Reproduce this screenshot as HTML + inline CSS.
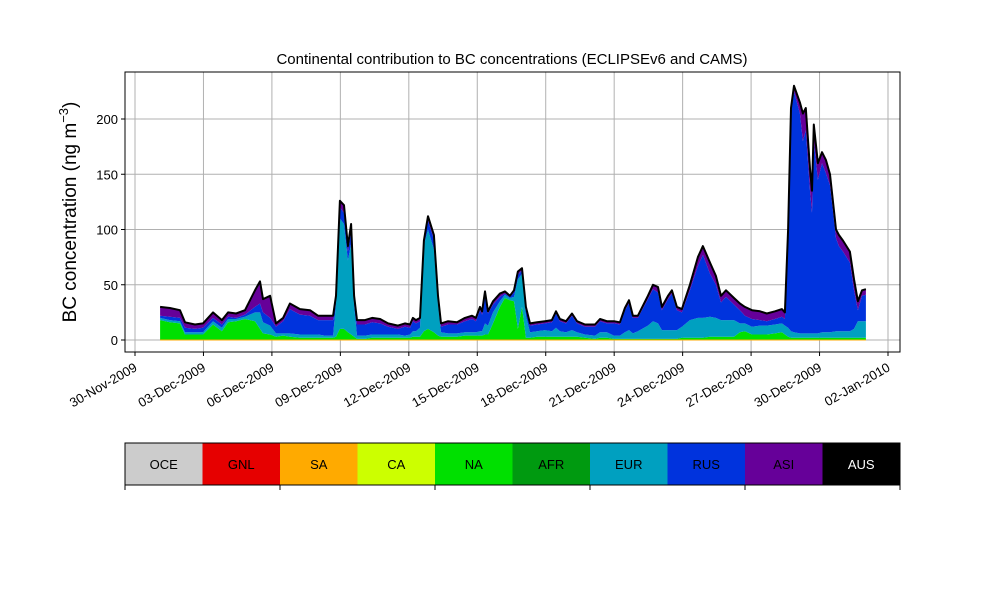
<!DOCTYPE html>
<html><head><meta charset="utf-8"><style>
body{margin:0;background:#fff;font-family:"Liberation Sans",sans-serif}
svg text{font-family:"Liberation Sans",sans-serif}
</style></head><body>
<svg id="chart" width="1000" height="600" viewBox="0 0 1000 600" xmlns="http://www.w3.org/2000/svg">
<rect width="1000" height="600" fill="#fff"/>
<g id="grid"></g><g id="areas"></g><g id="axes"></g><g id="cbar"></g>
</svg>
<script>
// days since 30-Nov-2009 00:00
const days=[1.10,1.53,1.97,2.19,2.63,2.98,3.42,3.81,4.08,4.43,4.82,5.26,5.48,5.61,5.92,6.18,6.49,6.79,7.23,7.67,8.02,8.33,8.68,8.81,8.98,9.16,9.33,9.47,9.60,9.73,10.08,10.39,10.74,11.09,11.52,11.83,12.05,12.18,12.31,12.49,12.66,12.84,13.10,13.28,13.41,13.72,14.11,14.46,14.77,14.94,15.12,15.21,15.34,15.47,15.69,15.99,16.21,16.43,16.61,16.78,16.96,17.13,17.31,17.62,17.97,18.27,18.45,18.62,18.89,19.15,19.37,19.72,20.16,20.38,20.68,20.99,21.25,21.47,21.65,21.82,22.04,22.48,22.70,22.92,23.09,23.36,23.53,23.75,23.97,24.32,24.67,24.89,25.20,25.46,25.68,25.90,26.25,26.51,26.73,27.04,27.39,27.69,28.05,28.35,28.48,28.62,28.75,28.88,29.14,29.27,29.40,29.58,29.67,29.75,29.93,30.11,30.28,30.46,30.72,30.85,31.03,31.33,31.51,31.68,31.86,32.03];
const naVals=[18,16,15,5,5,5,14,8,16,17,19,17,10,6,5,3,4,3,2,2,2,2,2,3,10,10,7,5,3,1,1,2,2,2,2,2,2,3,3,3,8,10,7,4,3,3,3,4,4,4,4,4,5,5,15,30,38,36,35,10,30,2,2,3,3,3,3,3,3,3,3,2,1,2,2,1,1,1,1,1,1,1,1,1,1,1,1,1,2,2,2,2,3,3,3,3,3,7,8,5,5,5,6,7,5,3,2,2,2,2,2,2,2,2,2,2,2,2,2,2,2,2,2,2,2,2];
const eurVals=[2,2,2,2,2,2,3,3,3,2,2,8,15,10,8,3,2,3,3,3,3,2,2,30,100,95,65,82,28,3,3,3,3,3,3,2,3,5,5,8,78,90,75,28,4,3,3,3,3,3,4,4,10,8,10,5,3,2,4,45,30,20,5,5,6,5,8,5,4,6,4,3,3,5,5,3,3,6,8,5,7,12,16,14,8,8,8,8,10,16,18,18,18,17,15,15,15,8,7,7,8,8,8,8,8,8,6,5,4,4,4,4,4,4,4,5,5,5,6,6,6,6,8,15,15,15];
const rusVals=[2,3,3,4,3,4,3,3,2,1,2,5,8,9,7,6,11,22,18,17,13,14,14,4,10,10,8,12,6,10,10,11,10,7,5,8,6,9,7,6,2,8,9,5,5,8,8,10,12,10,19,15,26,11,7,4,1,1,4,4,3,6,6,6,6,8,13,9,8,13,8,7,8,10,8,11,10,20,24,14,12,24,29,28,18,28,33,18,13,27,47,57,39,30,16,21,14,12,7,7,5,4,5,6,6,86,197,218,199,174,184,129,109,174,139,153,144,133,84,77,72,62,35,10,23,24];
const asiVals=[8,8,7,5,4,4,5,4,4,4,4,15,20,12,20,3,3,5,5,5,4,4,4,3,6,7,5,6,3,4,4,4,4,3,3,3,3,3,3,3,2,4,4,3,3,3,2,3,3,3,3,3,3,2,3,3,2,1,2,3,2,2,2,2,2,2,2,2,2,2,2,2,2,2,2,2,2,2,3,2,2,3,4,5,3,3,3,3,3,5,8,8,10,8,6,6,6,6,8,8,8,7,7,7,6,3,5,5,10,25,20,20,20,15,15,10,12,10,8,10,10,10,10,8,5,5];
const layerNames=["OCE","GNL","SA","CA","NA","AFR","EUR","RUS","ASI","AUS"];
const layerColors=["#cccccc","#e60000","#ffaa00","#ccff00","#00e000","#009a10","#00a0c0","#0033dd","#660099","#000000"];
const yTicks=[0,50,100,150,200];
const xTickLabels=["30-Nov-2009","03-Dec-2009","06-Dec-2009","09-Dec-2009","12-Dec-2009","15-Dec-2009","18-Dec-2009","21-Dec-2009","24-Dec-2009","27-Dec-2009","30-Dec-2009","02-Jan-2010"];
const xTickDays=[0,3,6,9,12,15,18,21,24,27,30,33];

const NS="http://www.w3.org/2000/svg";
const L=125,R=900,T=72,B=352;
const X=d=>135+d*22.818;
const Y=v=>340-v*1.105;
function mk(tag,attrs,parent,txt){const e=document.createElementNS(NS,tag);for(const k in attrs)e.setAttribute(k,attrs[k]);if(txt!==undefined)e.textContent=txt;parent.appendChild(e);return e;}
const grid=document.getElementById('grid'),areas=document.getElementById('areas'),axes=document.getElementById('axes'),cbar=document.getElementById('cbar');

yTicks.forEach(v=>{const l=mk('line',{x1:L,x2:R,y1:Y(v),y2:Y(v),stroke:'#b0b0b0','stroke-width':1},grid);

});
xTickDays.forEach(d=>{const l=mk('line',{x1:X(d),x2:X(d),y1:T,y2:B,stroke:'#b0b0b0','stroke-width':1},grid);

});

const series=[{v:naVals,c:layerColors[4],n:'na-area'},{v:eurVals,c:layerColors[6],n:'eur-area'},{v:rusVals,c:layerColors[7],n:'rus-area'},{v:asiVals,c:layerColors[8],n:'asi-area'}];
let base=days.map(()=>0);
series.forEach(s=>{
  const top=base.map((b,i)=>b+s.v[i]);
  let d='M'+days.map((t,i)=>X(t).toFixed(1)+','+Y(top[i]).toFixed(1)).join('L');
  for(let i=days.length-1;i>=0;i--)d+='L'+X(days[i]).toFixed(1)+','+Y(base[i]).toFixed(1);
  const p=mk('path',{d:d+'Z',fill:s.c,stroke:'none'},areas);
  
  
  base=top;
});
const bl=mk('line',{x1:X(days[0]),x2:X(days[days.length-1]),y1:Y(0),y2:Y(0),stroke:'#ffaa00','stroke-width':1},areas);


const tl=mk('polyline',{points:days.map((t,i)=>X(t).toFixed(1)+','+Y(base[i]).toFixed(1)).join(' '),fill:'none',stroke:'#000','stroke-width':2,'stroke-linejoin':'round'},areas);



const fr=mk('rect',{x:L,y:T,width:R-L,height:B-T,fill:'none',stroke:'#000','stroke-width':1},axes);


yTicks.forEach(v=>{mk('line',{x1:L-4,x2:L,y1:Y(v),y2:Y(v),stroke:'#000'},axes);
const t=mk('text',{x:L-7,y:Y(v)+5,'text-anchor':'end','font-size':13},axes,String(v));

});
xTickDays.forEach((d,i)=>{mk('line',{x1:X(d),x2:X(d),y1:B,y2:B+4,stroke:'#000'},axes);
const px=X(d)+3, py=B+18;
const t=mk('text',{x:px,y:py,'text-anchor':'end','font-size':13,transform:`rotate(-30 ${px} ${py})`},axes,xTickLabels[i]);

});
const tt=mk('text',{x:512,y:64,'text-anchor':'middle','font-size':15},axes,'Continental contribution to BC concentrations (ECLIPSEv6 and CAMS)');


const yl=mk('text',{x:0,y:0,'text-anchor':'middle','font-size':19,transform:'translate(76 212) rotate(-90)'},axes);


yl.innerHTML='BC concentration (ng m<tspan dy="-8" font-size="13">−3</tspan><tspan dy="8">)</tspan>';

const cw=(R-L)/layerNames.length;
layerNames.forEach((n,i)=>{
  const r=mk('rect',{x:L+i*cw,y:443,width:cw+0.5,height:42,fill:layerColors[i]},cbar);
  
  
  const t=mk('text',{x:L+i*cw+cw/2,y:469,'text-anchor':'middle','font-size':13,fill:n==='AUS'?'#fff':'#000'},cbar,n);
  
  
});
const cf=mk('rect',{x:L,y:443,width:R-L,height:42,fill:'none',stroke:'#000'},cbar);


[0,2,4,6,8,10].forEach(k=>mk('line',{x1:L+k*cw,x2:L+k*cw,y1:485,y2:490,stroke:'#000'},cbar));
</script>
</body></html>
